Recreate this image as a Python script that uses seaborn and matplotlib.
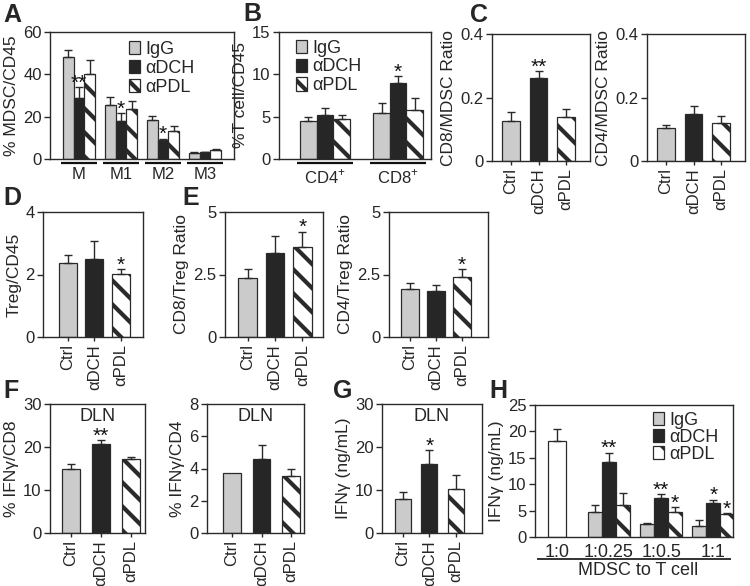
import matplotlib
matplotlib.use("Agg")
import matplotlib.pyplot as plt
import seaborn as sns
import pandas as pd

# ---------------- data ----------------
TREATS = ["IgG", "αDCH", "αPDL"]
CATS = ["Ctrl", "αDCH", "αPDL"]

# Panel A
a_groups = ["M", "M1", "M2", "M3"]
a_igg = [48.0, 25.5, 18.5, 2.8]
a_igg_err = [3.3, 4.0, 1.7, 0.4]
a_dch = [29.0, 18.0, 9.0, 3.2]
a_dch_err = [5.0, 3.5, 0.6, 0.3]
a_pdl = [40.0, 23.5, 13.0, 4.2]
a_pdl_err = [7.0, 4.0, 2.8, 0.5]
a_stars = {("M", "αDCH"): "**", ("M1", "αDCH"): "*", ("M2", "αDCH"): "*"}

# Panel B
b_groups = ["CD4+", "CD8+"]
b_labels = ["CD4$^{+}$", "CD8$^{+}$"]
b_igg = [4.5, 5.4]
b_igg_err = [0.5, 1.2]
b_dch = [5.2, 9.0]
b_dch_err = [0.8, 0.8]
b_pdl = [4.7, 5.8]
b_pdl_err = [0.5, 1.4]
b_stars = {("CD8+", "αDCH"): "*"}

# Panel C
c8_vals = [0.125, 0.262, 0.139]
c8_err = [0.028, 0.022, 0.026]
c8_stars = {"αDCH": "**"}
c4_vals = [0.104, 0.149, 0.121]
c4_err = [0.009, 0.024, 0.021]

# Panel D
d_vals = [2.36, 2.50, 2.02]
d_err = [0.26, 0.58, 0.16]
d_stars = {"αPDL": "*"}

# Panel E
e8_vals = [2.37, 3.38, 3.61]
e8_err = [0.34, 0.67, 0.60]
e8_stars = {"αPDL": "*"}
e4_vals = [1.94, 1.86, 2.39]
e4_err = [0.24, 0.22, 0.33]
e4_stars = {"αPDL": "*"}

# Panel F
f8_vals = [14.8, 20.8, 17.2]
f8_err = [1.2, 0.8, 0.5]
f8_stars = {"αDCH": "**"}
f4_vals = [3.73, 4.60, 3.52]
f4_err = [0.0, 0.87, 0.46]

# Panel G
g_vals = [7.9, 16.1, 10.2]
g_err = [1.6, 3.1, 3.2]
g_stars = {"αDCH": "*"}

# Panel H
h_all = ["1:0", "1:0.25", "1:0.5", "1:1"]
h_groups = ["1:0.25", "1:0.5", "1:1"]
h_ctrl_val = [18.2]
h_ctrl_err = [2.2]
h_igg = [4.7, 2.5, 2.0]
h_igg_err = [1.3, 0.15, 1.2]
h_dch = [14.2, 7.4, 6.5]
h_dch_err = [1.8, 0.7, 0.6]
h_pdl = [6.1, 4.7, 4.4]
h_pdl_err = [2.2, 0.9, 0.15]
h_stars = {("1:0.25", "αDCH"): "**", ("1:0.5", "αDCH"): "**", ("1:0.5", "αPDL"): "*",
           ("1:1", "αDCH"): "*", ("1:1", "αPDL"): "*"}

# ---------------- style ----------------
# figure rendered at 72 dpi (so hatch stripes are denser); K converts
# "100-dpi points" into 72-dpi points so pixel sizes stay the same.
DPI = 72
K = 100 / 72

sns.set_theme(style="ticks")
plt.rcParams["font.family"] = ["Liberation Sans", "DejaVu Sans"]
plt.rcParams["mathtext.fontset"] = "custom"
plt.rcParams["mathtext.rm"] = "Liberation Sans"
plt.rcParams["hatch.linewidth"] = 4.2
plt.rcParams["hatch.color"] = "black"

GRAY = "#cbcbcb"
DARK = "#262626"
WHITE = "#ffffff"
EC = "#2a2a2a"
PAL = {"IgG": GRAY, "αDCH": DARK, "αPDL": WHITE, "Ctrl": GRAY}
FS_TICK = 12 * K
FS_LAB = 12.5 * K
FS_LEG = 13 * K
FS_STAR = 15 * K
LW = 1.0 * K

W, H = 750, 586
fig = plt.figure(figsize=(W / DPI, H / DPI), dpi=DPI)


def add_ax(x0, y0, x1, y1):
    return fig.add_axes([x0 / W, 1 - y1 / H, (x1 - x0) / W, (y1 - y0) / H])


def style_ax(ax, ylim, yticks, yticklabels, ylabel):
    ax.set_ylim(*ylim)
    ax.set_yticks(yticks)
    ax.set_yticklabels(yticklabels)
    ax.set_ylabel(ylabel, fontsize=FS_LAB, labelpad=3 * K)
    ax.set_xlabel("")
    for s in ax.spines.values():
        s.set_visible(True)
        s.set_color(EC)
        s.set_linewidth(LW)
    ax.tick_params(axis="y", direction="out", length=4 * K, width=LW, labelsize=FS_TICK,
                   pad=2 * K, color=EC)


def decorate(ax, start, order, hue_order, errs, stars, hatch_level="αPDL"):
    for ci, cont in enumerate(ax.containers[start:]):
        t = hue_order[ci]
        for p in cont.patches:
            xc = p.get_x() + p.get_width() / 2
            g = order[int(round(xc))]
            h = p.get_height()
            e = errs[(g, t)]
            if t == hatch_level:
                p.set_hatch("\\")
            if e > 0:
                ax.errorbar([xc], [h], yerr=[[0], [e]], fmt="none", ecolor=EC,
                            elinewidth=LW, capsize=3 * K, capthick=LW, zorder=3)
            s = stars.get((g, t))
            if s:
                ax.annotate(s, xy=(xc, h + e), xytext=(0, -4 * K), textcoords="offset points",
                            ha="center", va="bottom", fontsize=FS_STAR, color="#111111")


def grouped(ax, groups, series, errs_list, stars, width, xlim, order=None):
    order = order or groups
    rows = []
    errs = {}
    for t, vals, ers in zip(TREATS, series, errs_list):
        for g, v, e in zip(groups, vals, ers):
            rows.append({"g": g, "t": t, "v": v})
            errs[(g, t)] = e
    df = pd.DataFrame(rows)
    start = len(ax.containers)
    sns.barplot(data=df, x="g", y="v", hue="t", order=order, hue_order=TREATS,
                palette=PAL, saturation=1, edgecolor=EC, linewidth=0.9 * K,
                width=width, errorbar=None, legend=False, ax=ax)
    decorate(ax, start, order, TREATS, errs, stars)
    ax.set_xlim(*xlim)


def simple(ax, vals, ers, stars, width, xlim):
    df = pd.DataFrame({"g": CATS, "v": vals})
    errs = {(c, c): e for c, e in zip(CATS, ers)}
    st = {(c, c): s for c, s in stars.items()}
    start = len(ax.containers)
    sns.barplot(data=df, x="g", y="v", hue="g", order=CATS, hue_order=CATS,
                palette=PAL, saturation=1, edgecolor=EC, linewidth=0.9 * K,
                width=width, errorbar=None, legend=False, ax=ax)
    decorate(ax, start, CATS, CATS, errs, st)
    ax.set_xlim(*xlim)
    ax.set_xticks(range(3))
    ax.set_xticklabels(CATS, rotation=90, fontsize=FS_TICK)
    ax.tick_params(axis="x", direction="out", length=3 * K, width=LW, pad=2 * K, color=EC)


def legend(ax, x, y, spacing=0.1):
    handles = [ax.containers[i].patches[0] for i in range(3)]
    ax.legend(handles, TREATS, loc="upper left", bbox_to_anchor=(x, y), frameon=False,
              fontsize=FS_LEG, handlelength=0.6, handleheight=0.75, handletextpad=0.3,
              labelspacing=spacing, borderpad=0, borderaxespad=0)


def underline(ax, x0, x1, y, lw=1.6):
    ax.plot([x0, x1], [y, y], color="#111111", lw=lw * K, clip_on=False,
            transform=ax.get_xaxis_transform(), solid_capstyle="butt")


# ---------- A ----------
axA = add_ax(50, 32, 234, 159)
grouped(axA, a_groups, [a_igg, a_dch, a_pdl], [a_igg_err, a_dch_err, a_pdl_err],
        a_stars, 0.76, (-0.69, 3.69))
style_ax(axA, (0, 60), [0, 20, 40, 60], ["0", "20", "40", "60"], "% MDSC/CD45")
axA.set_xticks(range(4))
axA.set_xticklabels(a_groups, fontsize=FS_TICK)
axA.tick_params(axis="x", length=0, pad=6 * K)
for i in range(4):
    underline(axA, i - 0.42, i + 0.42, -0.035)
legend(axA, 0.43, 0.93)

# ---------- B ----------
axB = add_ax(279, 32, 431, 159)
grouped(axB, b_groups, [b_igg, b_dch, b_pdl], [b_igg_err, b_dch_err, b_pdl_err],
        b_stars, 0.68, (-0.63, 1.45))
style_ax(axB, (0, 15), [0, 5, 10, 15], ["0", "5", "10", "15"], "%T cell/CD45")
axB.set_xticks(range(2))
axB.set_xticklabels(b_labels, fontsize=FS_TICK)
axB.tick_params(axis="x", length=0, pad=6 * K)
for i in range(2):
    underline(axB, i - 0.38, i + 0.38, -0.035)
legend(axB, 0.11, 0.94)

# ---------- C ----------
axC1 = add_ax(492, 34, 590, 161)
simple(axC1, c8_vals, c8_err, c8_stars, 0.65, (-0.69, 2.87))
style_ax(axC1, (0, 0.4), [0, 0.2, 0.4], ["0", "0.2", "0.4"], "CD8/MDSC Ratio")
axC2 = add_ax(647, 34, 745, 161)
simple(axC2, c4_vals, c4_err, {}, 0.65, (-0.69, 2.87))
style_ax(axC2, (0, 0.4), [0, 0.2, 0.4], ["0", "0.2", "0.4"], "CD4/MDSC Ratio")

# ---------- D ----------
axD = add_ax(43, 212, 143, 337)
simple(axD, d_vals, d_err, d_stars, 0.68, (-0.94, 2.83))
style_ax(axD, (0, 4), [0, 2, 4], ["0", "2", "4"], "Treg/CD45")

# ---------- E ----------
axE1 = add_ax(225, 212, 323, 337)
simple(axE1, e8_vals, e8_err, e8_stars, 0.68, (-0.82, 2.75))
style_ax(axE1, (0, 5), [0, 2.5, 5], ["0", "2.5", "5"], "CD8/Treg Ratio")
axE2 = add_ax(389, 212, 488, 337)
simple(axE2, e4_vals, e4_err, e4_stars, 0.68, (-0.8, 3.0))
style_ax(axE2, (0, 5), [0, 2.5, 5], ["0", "2.5", "5"], "CD4/Treg Ratio")

# ---------- F ----------
axF1 = add_ax(50, 404, 145, 533)
simple(axF1, f8_vals, f8_err, f8_stars, 0.6, (-0.7, 2.47))
style_ax(axF1, (0, 30), [0, 10, 20, 30], ["0", "10", "20", "30"], "% IFNγ/CD8")
axF2 = add_ax(207, 404, 304, 533)
simple(axF2, f4_vals, f4_err, {}, 0.6, (-0.85, 2.44))
style_ax(axF2, (0, 8), [0, 2, 4, 6, 8], ["0", "2", "4", "6", "8"], "% IFNγ/CD4")

# ---------- G ----------
axG = add_ax(382, 404, 482, 533)
simple(axG, g_vals, g_err, g_stars, 0.6, (-0.8, 3.0))
style_ax(axG, (0, 30), [0, 10, 20, 30], ["0", "10", "20", "30"], "IFNγ (ng/mL)")

for ax in (axF1, axF2, axG):
    ax.text(0.5, 0.9, "DLN", transform=ax.transAxes, ha="center", va="center", fontsize=FS_LEG)

# ---------- H ----------
axH = add_ax(535, 405, 733, 537)
grouped(axH, h_groups, [h_igg, h_dch, h_pdl], [h_igg_err, h_dch_err, h_pdl_err],
        h_stars, 0.8, (-0.42, 3.38), order=h_all)
start = len(axH.containers)
sns.barplot(x=["1:0"], y=h_ctrl_val, order=h_all, color=WHITE, saturation=1,
            edgecolor=EC, linewidth=0.9 * K, width=0.35, errorbar=None, ax=axH)
for p in axH.containers[start].patches:
    xc = p.get_x() + p.get_width() / 2
    axH.errorbar([xc], [p.get_height()], yerr=[[0], h_ctrl_err], fmt="none", ecolor=EC,
                 elinewidth=LW, capsize=3 * K, capthick=LW, zorder=3)
axH.set_xlim(-0.42, 3.38)
style_ax(axH, (0, 25), [0, 5, 10, 15, 20, 25], ["0", "5", "10", "15", "20", "25"], "IFNγ (ng/mL)")
axH.set_xticks(range(4))
axH.set_xticklabels(h_all, fontsize=FS_LEG)
axH.tick_params(axis="x", length=0, pad=5 * K)
underline(axH, -0.38, 3.34, -0.165, lw=1.2)
axH.text(0.52, -0.255, "MDSC to T cell", transform=axH.transAxes, ha="center", va="center",
         fontsize=FS_LEG)
legend(axH, 0.595, 0.95, spacing=0.0)

# ---------- panel letters ----------
for lab, x, y in [("A", 3, 15), ("B", 243, 14), ("C", 470, 15), ("D", 3, 198),
                  ("E", 182, 198), ("F", 3, 391), ("G", 333, 391), ("H", 489, 391)]:
    fig.text(x / W, 1 - y / H, lab, fontsize=18 * K, fontweight="bold", ha="left", va="center")

fig.savefig("out.png", dpi=DPI)
